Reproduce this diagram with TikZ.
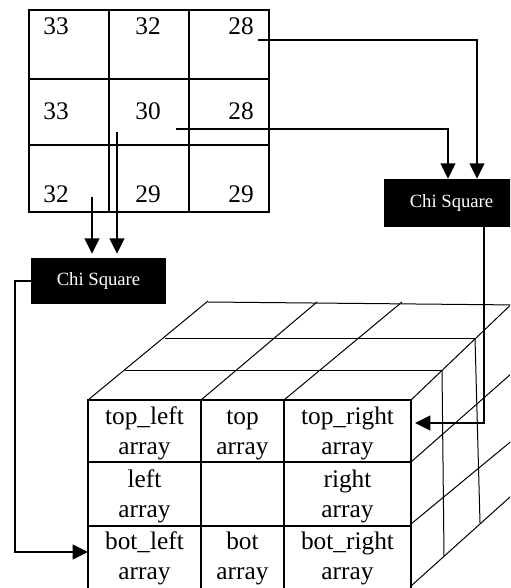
\documentclass[tikz,border=0pt]{standalone}
\usepackage{fontspec}
\setmainfont{Liberation Serif}
\usetikzlibrary{arrows.meta}
\begin{document}
\begin{tikzpicture}[x=0.75pt,y=-0.75pt,
  gridline/.style={line width=1.5pt},
  thinline/.style={line width=0.75pt},
  faceline/.style={line width=1.6pt},
  conn/.style={line width=1.5pt,-{Triangle[length=11.5pt,width=11pt]}},
  num/.style={anchor=base,inner sep=0pt,font=\fontsize{19}{22}\selectfont},
  cellt/.style={align=center,inner sep=0pt,font=\fontsize{19}{22.5}\selectfont},
  chi/.style={fill=black,text=white,inner sep=0pt,font=\fontsize{14}{16}\selectfont,minimum width=101.25pt}]
\useasboundingbox (0,0) rectangle (510,588);
\clip (0,0) rectangle (510,588);

% ---- top grid ----
\draw[gridline] (29,10) rectangle (269,212);
\draw[gridline] (109,10) -- (109,212) (189,10) -- (189,212)
                (29,79) -- (269,79) (29,145) -- (269,145);
\node[num] (g11) at (56,35)  {33};
\node[num] (g12) at (148,35) {32};
\node[num] (g13) at (241,35) {28};
\node[num] (g21) at (56,120)  {33};
\node[num] (g22) at (148,120) {30};
\node[num] (g23) at (241,120) {28};
\node[num] (g31) at (56,202)  {32};
\node[num] (g32) at (148,202) {29};
\node[num] (g33) at (241,202) {29};

% ---- Chi square boxes ----
\node[chi,minimum height=36pt] (rbox) at (451.5,203) {Chi Square};
\node[chi,minimum height=34.5pt] (lbox) at (98.5,281) {Chi Square};

% ---- cube: back lines ----
\draw[thinline] (125,370) -- (442,370);
\draw[thinline] (165,338) -- (475,338);
\draw[thinline] (208,302) -- (520,305);
\draw[thinline] (88,400) -- (208,301);
\draw[thinline] (201,400) -- (317,302);
\draw[thinline] (284,400) -- (402,302);
\draw[thinline] (411,400) -- (520,296);
\draw[thinline] (442,370) -- (444,556);
\draw[thinline] (475,338) -- (480,523);
\draw[thinline] (411,462) -- (520,366);
\draw[thinline] (411,524) -- (520,434);
\draw[thinline] (411,586) -- (520,488);

% ---- cube: front face ----
\draw[faceline] (88,400) rectangle (411,594);
\draw[faceline] (201,400) -- (201,594) (284,400) -- (284,594)
                (88,462) -- (411,462) (88,526) -- (411,526);
\node[cellt] (c11) at (144.5,433) {\strut top\_left\\\strut array};
\node[cellt] (c12) at (242.5,433) {\strut top\\\strut array};
\node[cellt] (c13) at (347.5,433) {\strut top\_right\\\strut array};
\node[cellt] (c21) at (144.5,496) {\strut left\\\strut array};
\node[cellt] (c23) at (347.5,496) {\strut right\\\strut array};
\node[cellt] (c31) at (144.5,558) {\strut bot\_left\\\strut array};
\node[cellt] (c32) at (242.5,558) {\strut bot\\\strut array};
\node[cellt] (c33) at (347.5,558) {\strut bot\_right\\\strut array};

% ---- connectors ----
\coordinate (s1) at (258,40);
\coordinate (s2) at (176,129);
\coordinate (s3) at (92,197);
\coordinate (s4) at (117,132);
\draw[conn] (s1) -| ([xshift=19.1pt]rbox.north);
\draw[conn] (s2) -| ([xshift=-2.6pt]rbox.north);
\draw[conn,shorten >=3pt] (s3) -- (s3 |- lbox.north);
\draw[conn,shorten >=3pt] (s4) -- (s4 |- lbox.north);
\coordinate (k1) at (15,552);
\draw[conn] (lbox.west) -| (k1) -- (88,552);
\coordinate (t2) at (415,423);
\draw[conn] ([xshift=24.4pt]rbox.south) |- (t2);
\end{tikzpicture}
\end{document}
